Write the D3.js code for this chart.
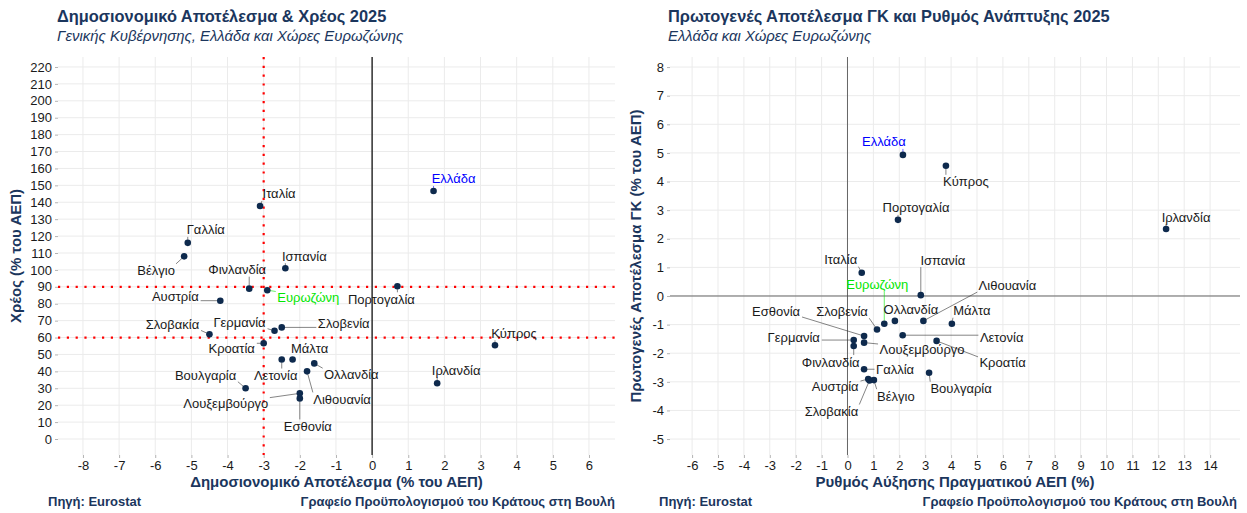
<!DOCTYPE html>
<html>
<head>
<meta charset="utf-8">
<script src="https://cdn.jsdelivr.net/npm/d3@7"></script>
<style>
  body { margin: 0; background: #fff; }
  svg text { font-family: "Liberation Sans", Arial, sans-serif; }
</style>
</head>
<body>
<div id="chart"></div>
<script>
// Data
var countries = ["Ελλάδα", "Ιταλία", "Γαλλία", "Βέλγιο", "Ισπανία", "Φινλανδία", "Ευρωζώνη",
  "Πορτογαλία", "Αυστρία", "Σλοβακία", "Γερμανία", "Σλοβενία", "Κροατία", "Λετονία", "Μάλτα",
  "Ολλανδία", "Λιθουανία", "Βουλγαρία", "Λουξεμβούργο", "Εσθονία", "Κύπρος", "Ιρλανδία"]

// left panel: fiscal balance vs debt (% of GDP)
var balance = [1.7, -3.1, -5.1, -5.2, -2.4, -3.4, -2.9, 0.7, -4.2, -4.5, -2.7, -2.5, -3.0,
  -2.5, -2.2, -1.6, -1.8, -3.5, -2.0, -2.0, 3.4, 1.8]
var debt = [146.7, 137.8, 116, 108, 101, 88.9, 88, 90.3, 81.8, 61.9, 64, 66, 56.6,
  47, 47, 44.7, 40, 30, 27, 24, 55.4, 33]

// right panel: real GDP growth vs primary balance
var growth = [2.14, 0.55, 0.64, 1.02, 2.83, 0.24, 1.42, 1.95, 0.8, 0.85, 0.24, 1.14, 3.44,
  2.13, 4.03, 1.83, 2.93, 3.15, 0.64, 0.64, 3.8, 12.3]
var primary = [4.93, 0.81, -2.56, -2.94, 0.03, -1.75, -0.97, 2.66, -2.9, -2.95, -1.54, -1.17, -1.57,
  -1.37, -0.97, -0.87, -0.87, -2.68, -1.63, -1.4, 4.55, 2.34]

var debtTicks = d3.range(0, 221, 10)
var balanceTicks = d3.range(-8, 7, 1)
var growthTicks = d3.range(-6, 15, 1)
var primaryTicks = d3.range(-5, 9, 1)

var refLinesY = [90, 60]
var refLinesX = [-3]

// label placement (pixel offsets from the point, like ggrepel put them)
var leftLabelOffsets = [[20, -12], [19, -12], [18, -13], [-28, 14], [19, -12], [-12, -19], [41, 7],
  [-16, 13], [-45, -4], [-37, -10], [-35, -8], [62, -4], [-32, 5], [-6, 16], [17, -11],
  [37, 11], [35, 28], [-40, -13], [-74, 10], [8, 28], [19, -12], [19, -13]]
var rightLabelOffsets = [[-19, -13], [-21, -13], [31, 0], [22, 16], [22, -35], [-23, 16], [-7, -39],
  [18, -12], [-33, 8], [-38, 31], [-60, -3], [-35, -18], [66, 22], [99, 2], [20, -13],
  [16, -11], [84, -35], [32, 16], [58, 7], [-88, -25], [20, 16], [20, -12]]

var colors = {
  "title": "#1b365d",
  "point": "#0e2a4d",
  "grid": "#ebebeb",
  "text": "#1a1a1a",
  "greece": "#0000ff",
  "eurozone": "#00e600"
}

var ScatterPanel = function(svg, opts) {
  var _self = this
  _self.opts = opts
  _self.g = svg.append("g").attr("class", "panel")

  _self.x = d3.scaleLinear().domain(opts.xDomain).range([opts.left, opts.right])
  _self.y = d3.scaleLinear().domain(opts.yDomain).range([opts.bottom, opts.top])

  _self.drawGrid()
  _self.drawAxes()
  _self.drawRefLines()
  _self.drawPoints()
  _self.drawTitles()
}

ScatterPanel.prototype.drawGrid = function drawGrid() {
  var _self = this, o = _self.opts
  var grid = _self.g.append("g").attr("class", "grid")
  grid.selectAll("line.gx").data(o.xTicks).enter().append("line")
    .attr("x1", function(d) { return _self.x(d) }).attr("x2", function(d) { return _self.x(d) })
    .attr("y1", o.top).attr("y2", o.bottom)
    .attr("stroke", colors.grid).attr("stroke-width", 1)
  grid.selectAll("line.gy").data(o.yTicks).enter().append("line")
    .attr("y1", function(d) { return _self.y(d) }).attr("y2", function(d) { return _self.y(d) })
    .attr("x1", o.left).attr("x2", o.right)
    .attr("stroke", colors.grid).attr("stroke-width", 1)
}

ScatterPanel.prototype.drawAxes = function drawAxes() {
  var _self = this, o = _self.opts
  // plain hyphen for negatives, as in the original
  var fmt = function(d) { return String(d) }

  var xAxis = _self.g.append("g")
    .attr("transform", "translate(0," + o.bottom + ")")
    .call(d3.axisBottom(_self.x).tickValues(o.xTicks).tickFormat(fmt).tickSize(3).tickPadding(3))
  var yAxis = _self.g.append("g")
    .attr("transform", "translate(" + o.left + ",0)")
    .call(d3.axisLeft(_self.y).tickValues(o.yTicks).tickFormat(fmt).tickSize(3).tickPadding(3))

  ;[xAxis, yAxis].forEach(function(ax) {
    ax.select(".domain").remove()
    ax.selectAll(".tick line").attr("stroke", "#b3b3b3")
    ax.selectAll(".tick text")
      .attr("fill", colors.text)
      .style("font-size", "13px")
      .style("font-family", "'Liberation Sans', Arial, sans-serif")
  })

  // zero lines
  if (o.zeroX) {
    _self.g.append("line")
      .attr("x1", _self.x(0)).attr("x2", _self.x(0))
      .attr("y1", o.top).attr("y2", o.bottom)
      .attr("stroke", o.zeroColor).attr("stroke-width", o.zeroWidth)
  }
  if (o.zeroY) {
    _self.g.append("line")
      .attr("y1", _self.y(0)).attr("y2", _self.y(0))
      .attr("x1", o.left).attr("x2", o.right)
      .attr("stroke", o.zeroColor).attr("stroke-width", o.zeroWidth)
  }
}

ScatterPanel.prototype.drawRefLines = function drawRefLines() {
  var _self = this, o = _self.opts
  var ref = _self.g.append("g").attr("class", "ref_lines")
  ref.selectAll("line.ry").data(o.refY).enter().append("line")
    .attr("y1", function(d) { return _self.y(d) }).attr("y2", function(d) { return _self.y(d) })
    .attr("x1", o.left).attr("x2", o.right)
  ref.selectAll("line.rx").data(o.refX).enter().append("line")
    .attr("x1", function(d) { return _self.x(d) }).attr("x2", function(d) { return _self.x(d) })
    .attr("y1", o.top).attr("y2", o.bottom)
  ref.selectAll("line")
    .attr("stroke", "#ff0000").attr("stroke-width", 2.2)
    .attr("stroke-dasharray", "2.2,6.6")
}

ScatterPanel.prototype.drawPoints = function drawPoints() {
  var _self = this, o = _self.opts
  var data = countries.map(function(c, i) {
    return { name: c, xv: o.xs[i], yv: o.ys[i], off: o.offsets[i] }
  })
  var segs = _self.g.append("g").attr("class", "segments")
  var labels = _self.g.append("g").attr("class", "labels")
  var pts = _self.g.append("g").attr("class", "points")

  data.forEach(function(d) {
    var px = _self.x(d.xv), py = _self.y(d.yv)
    var col = d.name === "Ελλάδα" ? colors.greece : (d.name === "Ευρωζώνη" ? colors.eurozone : colors.text)
    var t = labels.append("text")
      .attr("x", px + d.off[0]).attr("y", py + d.off[1] + 4.5)
      .attr("text-anchor", "middle")
      .attr("fill", col)
      .style("font-size", "13px")
      .text(d.name)
    var bb = t.node().getBBox()
    // nearest point on the label box
    var nx = Math.max(bb.x, Math.min(px, bb.x + bb.width))
    var ny = Math.max(bb.y + 2, Math.min(py, bb.y + bb.height - 2))
    var dx = nx - px, dy = ny - py
    var dist = Math.sqrt(dx * dx + dy * dy)
    if (dist > 6) {
      segs.append("line")
        .attr("x1", px + dx / dist * 3).attr("y1", py + dy / dist * 3)
        .attr("x2", nx - dx / dist * 1.5).attr("y2", ny - dy / dist * 1.5)
        .attr("stroke", col === colors.text ? "#333" : col)
        .attr("stroke-width", 0.6)
    }
    pts.append("circle")
      .attr("cx", px).attr("cy", py).attr("r", 3.3)
      .attr("fill", colors.point)
  })
}

ScatterPanel.prototype.drawTitles = function drawTitles() {
  var _self = this, o = _self.opts
  var g = _self.g
  g.append("text")
    .attr("x", o.titleX).attr("y", 22)
    .attr("fill", colors.title)
    .style("font-size", "16.4px").style("font-weight", "bold")
    .text(o.title)
  g.append("text")
    .attr("x", o.titleX).attr("y", 41)
    .attr("fill", colors.title)
    .style("font-size", "14.9px").style("font-style", "italic")
    .text(o.subtitle)
  g.append("text")
    .attr("x", (o.left + o.right) / 2).attr("y", 487)
    .attr("text-anchor", "middle")
    .attr("fill", colors.title)
    .style("font-size", "15px").style("font-weight", "bold")
    .text(o.xTitle)
  g.append("text")
    .attr("transform", "translate(" + o.yTitleX + "," + ((o.top + o.bottom) / 2) + ") rotate(-90)")
    .attr("text-anchor", "middle")
    .attr("fill", colors.title)
    .style("font-size", "15px").style("font-weight", "bold")
    .text(o.yTitle)
  g.append("text")
    .attr("x", o.titleX - 9).attr("y", 506)
    .attr("fill", colors.title)
    .style("font-size", "13px").style("font-weight", "bold")
    .text("Πηγή: Eurostat")
  g.append("text")
    .attr("x", o.captionRight).attr("y", 506)
    .attr("text-anchor", "end")
    .attr("fill", colors.title)
    .style("font-size", "13px").style("font-weight", "bold")
    .text("Γραφείο Προϋπολογισμού του Κράτους στη Βουλή")
}

var svg = d3.select("#chart").append("svg")
  .attr("width", 1247).attr("height", 513)

new ScatterPanel(svg, {
  left: 58, right: 615, top: 57, bottom: 455,
  xDomain: [-8.69, 6.72], yDomain: [-9.46, 225.9],
  xTicks: balanceTicks, yTicks: debtTicks,
  xs: balance, ys: debt, offsets: leftLabelOffsets,
  refX: refLinesX, refY: refLinesY,
  zeroX: true, zeroY: false, zeroColor: "#000", zeroWidth: 1.2,
  title: "Δημοσιονομικό Αποτέλεσμα & Χρέος 2025",
  subtitle: "Γενικής Κυβέρνησης, Ελλάδα και Χώρες Ευρωζώνης",
  xTitle: "Δημοσιονομικό Αποτέλεσμα (% του ΑΕΠ)",
  yTitle: "Χρέος (% του ΑΕΠ)",
  titleX: 57, yTitleX: 21, captionRight: 615
})

new ScatterPanel(svg, {
  left: 670, right: 1240, top: 57, bottom: 455,
  xDomain: [-6.853, 15.154], yDomain: [-5.557, 8.352],
  xTicks: growthTicks, yTicks: primaryTicks,
  xs: growth, ys: primary, offsets: rightLabelOffsets,
  refX: [], refY: [],
  zeroX: true, zeroY: true, zeroColor: "#444", zeroWidth: 0.8,
  title: "Πρωτογενές Αποτέλεσμα ΓΚ και Ρυθμός Ανάπτυξης 2025",
  subtitle: "Ελλάδα και Χώρες Ευρωζώνης",
  xTitle: "Ρυθμός Αύξησης Πραγματικού ΑΕΠ (%)",
  yTitle: "Πρωτογενές Αποτέλεσμα ΓΚ (% του ΑΕΠ)",
  titleX: 668, yTitleX: 641, captionRight: 1237
})
</script>
</body>
</html>
